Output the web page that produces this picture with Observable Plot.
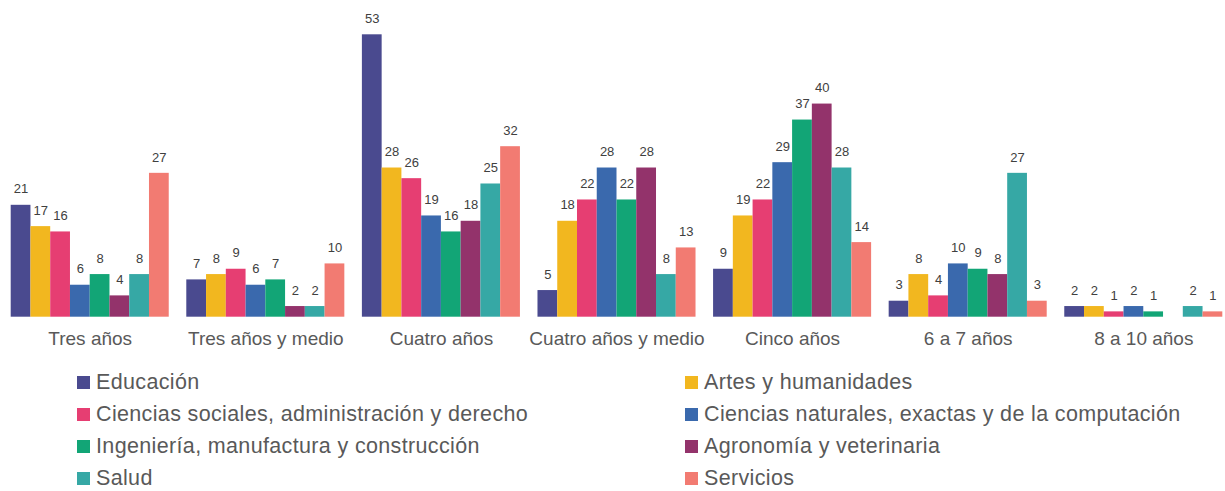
<!DOCTYPE html>
<html>
<head>
<meta charset="utf-8">
<script src="https://cdn.jsdelivr.net/npm/d3@7"></script>
<script src="https://cdn.jsdelivr.net/npm/@observablehq/plot@0.6"></script>
<style>
  html, body { margin: 0; padding: 0; background: #fff; }
  body { width: 1225px; height: 491px; overflow: hidden; font-family: "Liberation Sans", Arial, sans-serif; }
  #chart svg { display: block; }
  #legend { position: relative; height: 131px; }
  .item { position: absolute; display: flex; align-items: center; height: 32px; font-size: 21.5px; letter-spacing: 0.35px; color: #595959; white-space: nowrap; }
  .sw { width: 13px; height: 13px; margin-right: 6px; flex: none; }
</style>
</head>
<body>
<div id="chart"></div>
<div id="legend"></div>
<script>
const groups = ["Tres años", "Tres años y medio", "Cuatro años", "Cuatro años y medio", "Cinco años", "6 a 7 años", "8 a 10 años"];
const fields = [
  "Educación",
  "Artes y humanidades",
  "Ciencias sociales, administración y derecho",
  "Ciencias naturales, exactas y de la computación",
  "Ingeniería, manufactura y construcción",
  "Agronomía y veterinaria",
  "Salud",
  "Servicios"
];
const colors = ["#4a4a8f", "#f2b71f", "#e63e72", "#3a69ad", "#12a576", "#93336b", "#36a8a5", "#f27b72"];

const educacion  = [21, 7, 53, 5, 9, 3, 2];
const artes      = [17, 8, 28, 18, 19, 8, 2];
const sociales   = [16, 9, 26, 22, 22, 4, 1];
const naturales  = [6, 6, 19, 28, 29, 10, 2];
const ingenieria = [8, 7, 16, 22, 37, 9, 1];
const agronomia  = [4, 2, 18, 28, 40, 8, null];
const salud      = [8, 2, 25, 8, 28, 27, 2];
const servicios  = [27, 10, 32, 13, 14, 3, 1];

const series = [educacion, artes, sociales, naturales, ingenieria, agronomia, salud, servicios];
const data = [];
groups.forEach((g, gi) => {
  fields.forEach((f, fi) => {
    const v = series[fi][gi];
    if (v != null) data.push({group: g, field: f, value: v});
  });
});

const chart = Plot.plot({
  width: 1225,
  height: 360,
  marginLeft: 10.7,
  marginRight: 2.7,
  marginTop: 34.3,
  marginBottom: 43.3,
  style: {fontFamily: "Liberation Sans, Arial, sans-serif", background: "#fff"},
  fx: {domain: groups, paddingInner: 0.1, paddingOuter: 0, round: false, label: null},
  x: {domain: fields, padding: 0, round: false, axis: null},
  y: {domain: [0, 53], axis: null},
  color: {domain: fields, range: colors},
  marks: [
    Plot.barY(data, {fx: "group", x: "field", y: "value", fill: "field", inset: 0}),
    Plot.text(data, {fx: "group", x: "field", y: "value", text: d => String(d.value), dy: -16, fontSize: 13, fill: "#404040"}),
    Plot.axisFx({anchor: "bottom", tickSize: 0, tickPadding: 14, fontSize: 19, fill: "#595959", label: null})
  ]
});
document.getElementById("chart").appendChild(chart);

const legend = document.getElementById("legend");
fields.forEach((f, i) => {
  const col = i % 2, row = Math.floor(i / 2);
  const el = document.createElement("div");
  el.className = "item";
  el.style.left = (col === 0 ? 77 : 685) + "px";
  el.style.top = (6.7 + row * 31.8) + "px";
  const sw = document.createElement("span");
  sw.className = "sw";
  sw.style.background = colors[i];
  const t = document.createElement("span");
  t.textContent = f;
  el.appendChild(sw);
  el.appendChild(t);
  legend.appendChild(el);
});
</script>
</body>
</html>
